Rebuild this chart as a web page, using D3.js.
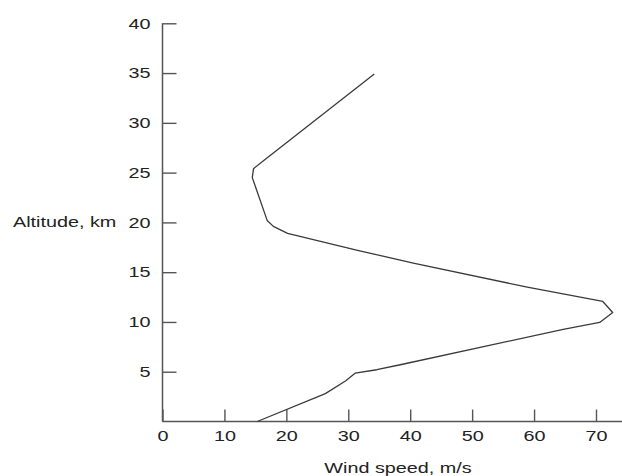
<!DOCTYPE html>
<html>
<head>
<meta charset="utf-8">
<script src="https://cdn.jsdelivr.net/npm/d3@7"></script>
<style>
  body { margin: 0; background: #fff; }
  svg text { font-family: "Liberation Sans", Arial, sans-serif; font-size: 15px; fill: #222; }
</style>
</head>
<body>
<svg width="622" height="476"></svg>
<script>
// wind speed (m/s) vs altitude (km)
var speed    = [15.3, 26.3, 29.6, 31.1, 34.6, 38.4, 64.7, 70.6, 72.7, 71.1, 58.9, 40.5, 31.5, 20.2, 17.9, 16.9, 14.5, 14.7, 16.3, 34.2];
var altitude = [0,    2.8,  4.1,  4.85, 5.2,  5.7,  9.25, 9.95, 10.95, 12.06, 13.5, 15.9, 17.2, 18.9, 19.6, 20.2, 24.5, 25.4, 26.2, 34.9];
var xTicks = [0, 10, 20, 30, 40, 50, 60, 70];
var yTicks = [5, 10, 15, 20, 25, 30, 35, 40];

var svg = d3.select("svg");
var sx = 1.32; // text in the picture is stretched sideways

var x = d3.scaleLinear().domain([0, 74.2]).range([162.5, 622]);
var y = d3.scaleLinear().domain([0, 40]).range([421.5, 23.3]);

// axes
var xAxis = d3.axisBottom(x).tickValues(xTicks).tickSize(-12).tickPadding(9);
var yAxis = d3.axisLeft(y).tickValues(yTicks).tickSize(-14).tickPadding(12);

var gx = svg.append("g").attr("transform", "translate(0," + y(0) + ")").call(xAxis);
var gy = svg.append("g").attr("transform", "translate(" + x(0) + ",0)").call(yAxis);

[gx, gy].forEach(function(g) {
  g.select(".domain").remove();
  g.selectAll("line").attr("stroke", "#555").attr("stroke-width", 1.4);
  g.selectAll("text").attr("fill", "#1a1a1a").style("font-size", "15px")
    .style("font-family", '"Liberation Sans", Arial, sans-serif');
});
gx.selectAll("text").attr("transform", "scale(" + sx + ",1)");
gy.selectAll("text").attr("x", -12 / sx).attr("transform", "scale(" + sx + ",1)");

// axis lines
svg.append("line")
  .attr("x1", x(0)).attr("x2", x(74.2))
  .attr("y1", y(0)).attr("y2", y(0))
  .attr("stroke", "#555").attr("stroke-width", 1.5);
svg.append("line")
  .attr("x1", x(0)).attr("x2", x(0))
  .attr("y1", y(0)).attr("y2", y(40))
  .attr("stroke", "#555").attr("stroke-width", 1.5);

// the profile
var pts = speed.map(function(s, i) { return [s, altitude[i]]; });
var line = d3.line()
  .x(function(d) { return x(d[0]); })
  .y(function(d) { return y(d[1]); });

svg.append("path")
  .datum(pts)
  .attr("d", line)
  .attr("fill", "none")
  .attr("stroke", "#3a3a3a")
  .attr("stroke-width", 1.3)
  .attr("stroke-linejoin", "round");

// axis titles
svg.append("text")
  .attr("transform", "scale(" + sx + ",1)")
  .attr("x", 13 / sx)
  .attr("y", y(20) + 5)
  .attr("fill", "#1a1a1a")
  .text("Altitude, km");

svg.append("text")
  .attr("transform", "scale(" + sx + ",1)")
  .attr("x", 398 / sx)
  .attr("y", 473)
  .attr("text-anchor", "middle")
  .attr("fill", "#1a1a1a")
  .text("Wind speed, m/s");
</script>
</body>
</html>
